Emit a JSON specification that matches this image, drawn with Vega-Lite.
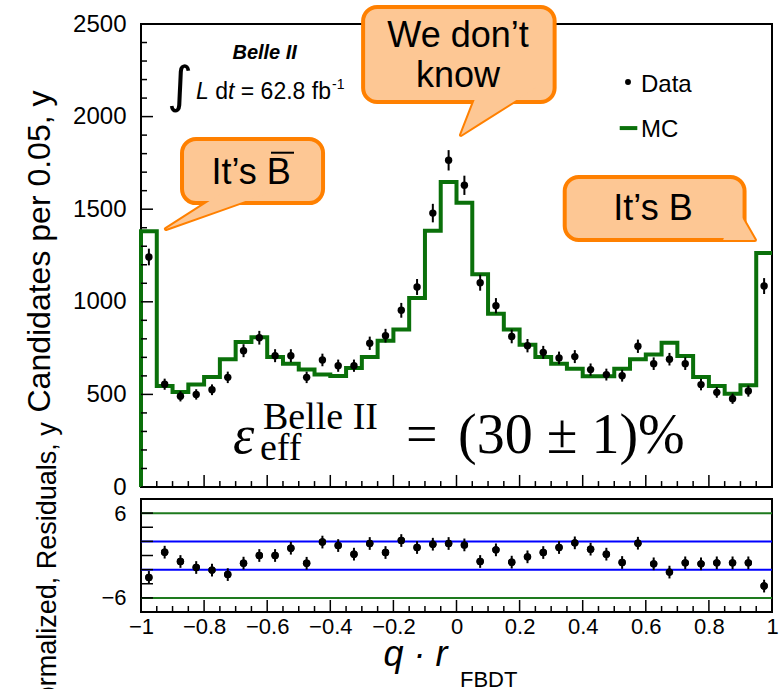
{
  "$schema": "https://vega.github.io/schema/vega-lite/v6.json",
  "background": "white",
  "padding": {"left": 22, "top": 3, "right": 0, "bottom": 0},
  "spacing": 12,
  "bounds": "flush",
  "config": {
    "view": {"stroke": "black", "strokeWidth": 2},
    "font": "Liberation Sans",
    "axis": {"domain": false, "grid": false, "ticks": false, "labelColor": "black", "titleColor": "black", "labelFont": "Liberation Sans", "titleFont": "Liberation Sans", "titleFontWeight": "normal", "labelOverlap": false, "labelFlush": false, "labelBound": false}
  },
  "datasets": {
    "ymaj": [{"y": 0}, {"y": 500}, {"y": 1000}, {"y": 1500}, {"y": 2000}, {"y": 2500}],
    "ymin": [{"y": 100}, {"y": 200}, {"y": 300}, {"y": 400}, {"y": 600}, {"y": 700}, {"y": 800}, {"y": 900}, {"y": 1100}, {"y": 1200}, {"y": 1300}, {"y": 1400}, {"y": 1600}, {"y": 1700}, {"y": 1800}, {"y": 1900}, {"y": 2100}, {"y": 2200}, {"y": 2300}, {"y": 2400}],
    "xmaj": [{"x": -0.8}, {"x": -0.6}, {"x": -0.4}, {"x": -0.2}, {"x": 0}, {"x": 0.2}, {"x": 0.4}, {"x": 0.6}, {"x": 0.8}],
    "xmin": [{"x": -0.95}, {"x": -0.9}, {"x": -0.85}, {"x": -0.75}, {"x": -0.7}, {"x": -0.65}, {"x": -0.55}, {"x": -0.5}, {"x": -0.45}, {"x": -0.35}, {"x": -0.3}, {"x": -0.25}, {"x": -0.15}, {"x": -0.1}, {"x": -0.05}, {"x": 0.05}, {"x": 0.1}, {"x": 0.15}, {"x": 0.25}, {"x": 0.3}, {"x": 0.35}, {"x": 0.45}, {"x": 0.5}, {"x": 0.55}, {"x": 0.65}, {"x": 0.7}, {"x": 0.75}, {"x": 0.85}, {"x": 0.9}, {"x": 0.95}],
    "rticks": [{"y": -6}, {"y": -4}, {"y": -2}, {"y": 0}, {"y": 2}, {"y": 4}, {"y": 6}],
    "mc": [
      {"i": 0, "x": -1, "y": 0}, {"i": 1, "x": -1, "y": 1381}, {"i": 2, "x": -0.95, "y": 545}, {"i": 3, "x": -0.9, "y": 513},
      {"i": 4, "x": -0.85, "y": 553}, {"i": 5, "x": -0.8, "y": 594}, {"i": 6, "x": -0.75, "y": 690}, {"i": 7, "x": -0.7, "y": 783},
      {"i": 8, "x": -0.65, "y": 808}, {"i": 9, "x": -0.6, "y": 702}, {"i": 10, "x": -0.55, "y": 666}, {"i": 11, "x": -0.5, "y": 634},
      {"i": 12, "x": -0.45, "y": 608}, {"i": 13, "x": -0.4, "y": 599}, {"i": 14, "x": -0.35, "y": 643}, {"i": 15, "x": -0.3, "y": 702},
      {"i": 16, "x": -0.25, "y": 790}, {"i": 17, "x": -0.2, "y": 851}, {"i": 18, "x": -0.15, "y": 1021}, {"i": 19, "x": -0.1, "y": 1384},
      {"i": 20, "x": -0.05, "y": 1647}, {"i": 21, "x": 0, "y": 1535}, {"i": 22, "x": 0.05, "y": 1149}, {"i": 23, "x": 0.1, "y": 936},
      {"i": 24, "x": 0.15, "y": 851}, {"i": 25, "x": 0.2, "y": 768}, {"i": 26, "x": 0.25, "y": 702}, {"i": 27, "x": 0.3, "y": 666},
      {"i": 28, "x": 0.35, "y": 639}, {"i": 29, "x": 0.4, "y": 598}, {"i": 30, "x": 0.45, "y": 598}, {"i": 31, "x": 0.5, "y": 639},
      {"i": 32, "x": 0.55, "y": 690}, {"i": 33, "x": 0.6, "y": 715}, {"i": 34, "x": 0.65, "y": 779}, {"i": 35, "x": 0.7, "y": 707},
      {"i": 36, "x": 0.75, "y": 594}, {"i": 37, "x": 0.8, "y": 545}, {"i": 38, "x": 0.85, "y": 504}, {"i": 39, "x": 0.9, "y": 549},
      {"i": 40, "x": 0.95, "y": 1263}, {"i": 41, "x": 1, "y": 1263}
    ],
    "data": [
      {"x": -0.975, "y": 1242, "e": 45}, {"x": -0.925, "y": 555, "e": 30}, {"x": -0.875, "y": 490, "e": 28}, {"x": -0.825, "y": 500, "e": 28},
      {"x": -0.775, "y": 525, "e": 29}, {"x": -0.725, "y": 592, "e": 31}, {"x": -0.675, "y": 736, "e": 35}, {"x": -0.625, "y": 806, "e": 37},
      {"x": -0.575, "y": 709, "e": 35}, {"x": -0.525, "y": 709, "e": 35}, {"x": -0.475, "y": 592, "e": 31}, {"x": -0.425, "y": 686, "e": 34},
      {"x": -0.375, "y": 655, "e": 33}, {"x": -0.325, "y": 655, "e": 33}, {"x": -0.275, "y": 776, "e": 36}, {"x": -0.225, "y": 817, "e": 37},
      {"x": -0.175, "y": 954, "e": 40}, {"x": -0.125, "y": 1080, "e": 43}, {"x": -0.075, "y": 1479, "e": 50}, {"x": -0.025, "y": 1764, "e": 55},
      {"x": 0.025, "y": 1629, "e": 52}, {"x": 0.075, "y": 1103, "e": 43}, {"x": 0.125, "y": 979, "e": 41}, {"x": 0.175, "y": 813, "e": 37},
      {"x": 0.225, "y": 763, "e": 36}, {"x": 0.275, "y": 727, "e": 35}, {"x": 0.325, "y": 697, "e": 34}, {"x": 0.375, "y": 704, "e": 35},
      {"x": 0.425, "y": 634, "e": 33}, {"x": 0.475, "y": 607, "e": 32}, {"x": 0.525, "y": 601, "e": 32}, {"x": 0.575, "y": 760, "e": 36},
      {"x": 0.625, "y": 666, "e": 34}, {"x": 0.675, "y": 690, "e": 34}, {"x": 0.725, "y": 666, "e": 34}, {"x": 0.775, "y": 553, "e": 31},
      {"x": 0.825, "y": 511, "e": 29}, {"x": 0.875, "y": 477, "e": 28}, {"x": 0.925, "y": 518, "e": 30}, {"x": 0.975, "y": 1085, "e": 43}
    ],
    "resid": [
      {"x": -0.975, "y": -3.1, "e": 0.9}, {"x": -0.925, "y": 0.47, "e": 0.9}, {"x": -0.875, "y": -0.85, "e": 0.9}, {"x": -0.825, "y": -1.7, "e": 0.9},
      {"x": -0.775, "y": -2.07, "e": 0.9}, {"x": -0.725, "y": -2.7, "e": 0.9}, {"x": -0.675, "y": -1.08, "e": 0.9}, {"x": -0.625, "y": 0, "e": 0.9},
      {"x": -0.575, "y": 0, "e": 0.9}, {"x": -0.525, "y": 1.03, "e": 0.9}, {"x": -0.475, "y": -1.1, "e": 0.9}, {"x": -0.425, "y": 1.9, "e": 0.9},
      {"x": -0.375, "y": 1.41, "e": 0.9}, {"x": -0.325, "y": 0.19, "e": 0.9}, {"x": -0.275, "y": 1.7, "e": 0.9}, {"x": -0.225, "y": 0.42, "e": 0.9},
      {"x": -0.175, "y": 2.12, "e": 0.9}, {"x": -0.125, "y": 1.13, "e": 0.9}, {"x": -0.075, "y": 1.6, "e": 0.9}, {"x": -0.025, "y": 1.7, "e": 0.9},
      {"x": 0.025, "y": 1.5, "e": 0.9}, {"x": 0.075, "y": -0.85, "e": 0.9}, {"x": 0.125, "y": 0.8, "e": 0.9}, {"x": 0.175, "y": -0.94, "e": 0.9},
      {"x": 0.225, "y": -0.19, "e": 0.9}, {"x": 0.275, "y": 0.42, "e": 0.9}, {"x": 0.325, "y": 1.13, "e": 0.9}, {"x": 0.375, "y": 1.79, "e": 0.9},
      {"x": 0.425, "y": 0.9, "e": 0.9}, {"x": 0.475, "y": 0.19, "e": 0.9}, {"x": 0.525, "y": -0.99, "e": 0.9}, {"x": 0.575, "y": 1.74, "e": 0.9},
      {"x": 0.625, "y": -1.18, "e": 0.9}, {"x": 0.675, "y": -2.35, "e": 0.9}, {"x": 0.725, "y": -1.04, "e": 0.9}, {"x": 0.775, "y": -1.18, "e": 0.9},
      {"x": 0.825, "y": -1.04, "e": 0.9}, {"x": 0.875, "y": -1.04, "e": 0.9}, {"x": 0.925, "y": -1.04, "e": 0.9}, {"x": 0.975, "y": -4.33, "e": 0.9}
    ],
    "tails": [
      {"b": 1, "x": -0.921, "y": 1393, "y2": 1393}, {"b": 1, "x": -0.738, "y": 1503, "y2": 1593}, {"b": 1, "x": -0.589, "y": 1593, "y2": 1593},
      {"b": 2, "x": 0.0143, "y": 1901, "y2": 1901}, {"b": 2, "x": 0.0735, "y": 1965, "y2": 2160}, {"b": 2, "x": 0.255, "y": 2160, "y2": 2160},
      {"b": 3, "x": 0.845, "y": 1334, "y2": 1334}, {"b": 3, "x": 0.886, "y": 1334, "y2": 1512}, {"b": 3, "x": 0.946, "y": 1334, "y2": 1334}
    ]
  },
  "vconcat": [
    {
      "width": 631,
      "height": 463,
      "layer": [
        {"data": {"name": "mc"}, "mark": {"type": "line", "interpolate": "step-after", "color": "#0a700a", "strokeWidth": 4},
          "encoding": {
            "x": {"field": "x", "type": "quantitative", "scale": {"domain": [-1, 1], "nice": false, "zero": false}, "axis": null},
            "y": {"field": "y", "type": "quantitative", "scale": {"domain": [0, 2500], "nice": false},
              "axis": {"values": [0, 500, 1000, 1500, 2000, 2500], "format": "d", "labelFontSize": 24, "labelPadding": 15, "ticks": false, "domain": false, "grid": false,
                "title": "Candidates per 0.05", "titleFontSize": 32, "titleX": -92, "titleY": 227, "titleBaseline": "alphabetic", "titleAlign": "center", "titleAngle": 270}},
            "order": {"field": "i", "type": "quantitative"}}},
        {"data": {"name": "ymaj"}, "mark": {"type": "rule", "color": "black", "strokeWidth": 1.5},
          "encoding": {"x": {"datum": -1}, "x2": {"datum": -0.962}, "y": {"field": "y", "type": "quantitative"}}},
        {"data": {"name": "ymin"}, "mark": {"type": "rule", "color": "black", "strokeWidth": 1.5},
          "encoding": {"x": {"datum": -1}, "x2": {"datum": -0.981}, "y": {"field": "y", "type": "quantitative"}}},
        {"data": {"name": "xmaj"}, "mark": {"type": "rule", "color": "black", "strokeWidth": 1.5},
          "encoding": {"x": {"field": "x", "type": "quantitative"}, "y": {"datum": 0}, "y2": {"datum": 65}}},
        {"data": {"name": "xmin"}, "mark": {"type": "rule", "color": "black", "strokeWidth": 1.5},
          "encoding": {"x": {"field": "x", "type": "quantitative"}, "y": {"datum": 0}, "y2": {"datum": 32}}},
        {"data": {"name": "data"}, "mark": {"type": "errorbar", "color": "black", "thickness": 2},
          "encoding": {"x": {"field": "x", "type": "quantitative"}, "y": {"field": "y", "type": "quantitative"}, "yError": {"field": "e"}}},
        {"data": {"name": "data"}, "mark": {"type": "point", "filled": true, "color": "black", "size": 55, "opacity": 1},
          "encoding": {"x": {"field": "x", "type": "quantitative"}, "y": {"field": "y", "type": "quantitative"}}},
        {"data": {"name": "tails"}, "mark": {"type": "area", "fill": "#FDC794", "fillOpacity": 1, "stroke": "#FF8000", "strokeWidth": 4, "strokeJoin": "round", "clip": false},
          "encoding": {"x": {"field": "x", "type": "quantitative"}, "y": {"field": "y", "type": "quantitative", "stack": null}, "y2": {"field": "y2"}, "detail": {"field": "b"}}},
        {"data": {"values": [{"x": -0.870, "x2": -0.423, "y": 1533, "y2": 1879}, {"x": -0.296, "x2": 0.311, "y": 2079, "y2": 2592}, {"x": 0.343, "x2": 0.913, "y": 1334, "y2": 1674}]},
          "mark": {"type": "rect", "fill": "#FDC794", "stroke": "#FF8000", "strokeWidth": 4, "cornerRadius": 14, "clip": false},
          "encoding": {"x": {"field": "x", "type": "quantitative"}, "x2": {"field": "x2"}, "y": {"field": "y", "type": "quantitative"}, "y2": {"field": "y2"}}},
        {"data": {"name": "tails"}, "mark": {"type": "area", "fill": "#FDC794", "fillOpacity": 1, "strokeWidth": 0, "clip": false},
          "encoding": {"x": {"field": "x", "type": "quantitative"}, "y": {"field": "y", "type": "quantitative", "stack": null}, "y2": {"field": "y2"}, "detail": {"field": "b"}}},
        {"data": {"values": [{"x": -0.651, "y": 1634, "t": "It’s B"}, {"x": 0.0048, "y": 2376, "t": "We don’t"}, {"x": 0.0048, "y": 2160, "t": "know"}, {"x": 0.623, "y": 1440, "t": "It’s B"}]},
          "mark": {"type": "text", "font": "Liberation Sans", "fontSize": 36, "color": "black", "align": "center", "baseline": "alphabetic", "clip": false},
          "encoding": {"x": {"field": "x", "type": "quantitative"}, "y": {"field": "y", "type": "quantitative"}, "text": {"field": "t"}}},
        {"data": {"values": [{"x": -0.588, "x2": -0.515, "y": 1805}]}, "mark": {"type": "rule", "color": "black", "strokeWidth": 2},
          "encoding": {"x": {"field": "x", "type": "quantitative"}, "x2": {"field": "x2"}, "y": {"field": "y", "type": "quantitative"}}},
        {"data": {"values": [{"x": -0.608, "y": 2312, "t": "Belle II"}]},
          "mark": {"type": "text", "font": "Liberation Sans", "fontSize": 20, "fontWeight": "bold", "fontStyle": "italic", "color": "black", "align": "center", "baseline": "alphabetic"},
          "encoding": {"x": {"field": "x", "type": "quantitative"}, "y": {"field": "y", "type": "quantitative"}, "text": {"field": "t"}}},
        {"data": {"values": [{"x": -0.876, "y": 2160, "t": "∫"}]},
          "mark": {"type": "text", "font": "DejaVu Sans", "fontSize": 50, "color": "black", "align": "center", "baseline": "middle"},
          "encoding": {"x": {"field": "x", "type": "quantitative"}, "y": {"field": "y", "type": "quantitative"}, "text": {"field": "t"}}},
        {"data": {"values": [{"x": -0.8257, "y": 2097, "t": "L"}, {"x": -0.7243, "y": 2097, "t": "t"}]},
          "mark": {"type": "text", "font": "Liberation Sans", "fontSize": 23, "fontStyle": "italic", "color": "black", "align": "left", "baseline": "alphabetic"},
          "encoding": {"x": {"field": "x", "type": "quantitative"}, "y": {"field": "y", "type": "quantitative"}, "text": {"field": "t"}}},
        {"data": {"values": [{"x": -0.7648, "y": 2097, "t": "d"}, {"x": -0.6837, "y": 2097, "t": "= 62.8 fb"}]},
          "mark": {"type": "text", "font": "Liberation Sans", "fontSize": 23, "color": "black", "align": "left", "baseline": "alphabetic"},
          "encoding": {"x": {"field": "x", "type": "quantitative"}, "y": {"field": "y", "type": "quantitative"}, "text": {"field": "t"}}},
        {"data": {"values": [{"x": -0.3946, "y": 2149, "t": "-1"}]},
          "mark": {"type": "text", "font": "Liberation Sans", "fontSize": 14, "color": "black", "align": "left", "baseline": "alphabetic"},
          "encoding": {"x": {"field": "x", "type": "quantitative"}, "y": {"field": "y", "type": "quantitative"}, "text": {"field": "t"}}},
        {"data": {"values": [{"x": 0.5436, "y": 2187}]}, "mark": {"type": "point", "filled": true, "color": "black", "size": 35, "opacity": 1},
          "encoding": {"x": {"field": "x", "type": "quantitative"}, "y": {"field": "y", "type": "quantitative"}}},
        {"data": {"values": [{"x": 0.5173, "x2": 0.5731, "y": 1938}]}, "mark": {"type": "rule", "color": "#0a700a", "strokeWidth": 4},
          "encoding": {"x": {"field": "x", "type": "quantitative"}, "x2": {"field": "x2"}, "y": {"field": "y", "type": "quantitative"}}},
        {"data": {"values": [{"x": 0.5848, "y": 2133, "t": "Data"}, {"x": 0.5848, "y": 1890, "t": "MC"}]},
          "mark": {"type": "text", "font": "Liberation Sans", "fontSize": 24, "color": "black", "align": "left", "baseline": "alphabetic"},
          "encoding": {"x": {"field": "x", "type": "quantitative"}, "y": {"field": "y", "type": "quantitative"}, "text": {"field": "t"}}},
        {"data": {"values": [{"x": -0.7084, "y": 184, "t": "ε"}]},
          "mark": {"type": "text", "font": "Liberation Serif", "fontSize": 54, "fontStyle": "italic", "color": "black", "align": "left", "baseline": "alphabetic"},
          "encoding": {"x": {"field": "x", "type": "quantitative"}, "y": {"field": "y", "type": "quantitative"}, "text": {"field": "t"}}},
        {"data": {"values": [{"x": -0.160, "y": 184, "t": "="}, {"x": 0.0048, "y": 184, "t": "(30 ± 1)%"}]},
          "mark": {"type": "text", "font": "Liberation Serif", "fontSize": 56, "color": "black", "align": "left", "baseline": "alphabetic"},
          "encoding": {"x": {"field": "x", "type": "quantitative"}, "y": {"field": "y", "type": "quantitative"}, "text": {"field": "t"}}},
        {"data": {"values": [{"x": -0.6133, "y": 313, "t": "Belle II"}, {"x": -0.6228, "y": 146, "t": "eff"}]},
          "mark": {"type": "text", "font": "Liberation Serif", "fontSize": 38, "color": "black", "align": "left", "baseline": "alphabetic"},
          "encoding": {"x": {"field": "x", "type": "quantitative"}, "y": {"field": "y", "type": "quantitative"}, "text": {"field": "t"}}}
      ]
    },
    {
      "width": 631,
      "height": 113,
      "layer": [
        {"data": {"name": "resid"}, "mark": {"type": "point", "filled": true, "color": "black", "size": 55, "opacity": 1},
          "encoding": {
            "x": {"field": "x", "type": "quantitative", "scale": {"domain": [-1, 1], "nice": false, "zero": false},
              "axis": {"values": [-1, -0.8, -0.6, -0.4, -0.2, 0, 0.2, 0.4, 0.6, 0.8, 1], "format": "~g",
                "labelFontSize": 22, "labelPadding": 4, "ticks": false, "domain": false, "grid": false,
                "title": "q · r", "titleFontSize": 36, "titleFontStyle": "italic", "titleX": 242, "titleY": 53, "titleAlign": "left", "titleBaseline": "alphabetic"}},
            "y": {"field": "y", "type": "quantitative", "scale": {"domain": [-8, 8], "nice": false},
              "axis": {"values": [-6, -2, 2, 6], "format": "~g",
                "labelFontSize": 22, "labelPadding": 15, "ticks": false, "domain": false, "grid": false,
                "title": ["Normalized", "Residuals"], "titleFontSize": 27, "titleLineHeight": 31, "titleX": -86, "titleY": 72, "titleBaseline": "alphabetic", "titleAlign": "center", "titleAngle": 270}}}},
        {"data": {"values": [{"y": 6, "c": "g"}, {"y": -6, "c": "g"}, {"y": 2, "c": "b"}, {"y": -2, "c": "b"}]},
          "mark": {"type": "rule", "strokeWidth": 2},
          "encoding": {"y": {"field": "y", "type": "quantitative"}, "color": {"field": "c", "type": "nominal", "scale": {"domain": ["g", "b"], "range": ["#1e7a1e", "#0000ff"]}, "legend": null}}},
        {"data": {"name": "rticks"}, "mark": {"type": "rule", "color": "black", "strokeWidth": 1.5},
          "encoding": {"x": {"datum": -1}, "x2": {"datum": -0.962}, "y": {"field": "y", "type": "quantitative"}}},
        {"data": {"name": "xmaj"}, "mark": {"type": "rule", "color": "black", "strokeWidth": 1.5},
          "encoding": {"x": {"field": "x", "type": "quantitative"}, "y": {"datum": -8}, "y2": {"datum": -6.3}}},
        {"data": {"name": "xmin"}, "mark": {"type": "rule", "color": "black", "strokeWidth": 1.5},
          "encoding": {"x": {"field": "x", "type": "quantitative"}, "y": {"datum": -8}, "y2": {"datum": -7.15}}},
        {"data": {"name": "resid"}, "mark": {"type": "errorbar", "color": "black", "thickness": 2},
          "encoding": {"x": {"field": "x", "type": "quantitative"}, "y": {"field": "y", "type": "quantitative"}, "yError": {"field": "e"}}},
        {"data": {"name": "resid"}, "mark": {"type": "point", "filled": true, "color": "black", "size": 55, "opacity": 1},
          "encoding": {"x": {"field": "x", "type": "quantitative"}, "y": {"field": "y", "type": "quantitative"}}},
        {"data": {"values": [{"x": 0.011, "y": -17.6, "t": "FBDT"}]},
          "mark": {"type": "text", "font": "Liberation Sans", "fontSize": 22, "color": "black", "align": "left", "baseline": "middle", "clip": false},
          "encoding": {"x": {"field": "x", "type": "quantitative"}, "y": {"field": "y", "type": "quantitative"}, "text": {"field": "t"}}}
      ]
    }
  ]
}
